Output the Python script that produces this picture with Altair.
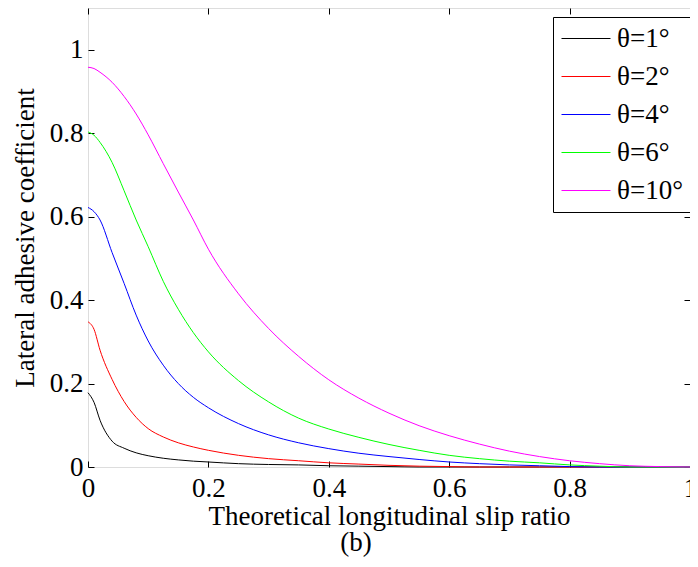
import altair as alt
import pandas as pd

# ---- data ----
x_vals = [0, 0.01, 0.02, 0.04, 0.06, 0.08, 0.10, 0.125, 0.15, 0.175, 0.2, 0.25, 0.3,
          0.35, 0.4, 0.45, 0.5, 0.55, 0.6, 0.65, 0.7, 0.75, 0.8, 0.85, 0.9, 0.95, 1.0]

theta1 = [0.178, 0.155, 0.112, 0.062, 0.045, 0.034, 0.027, 0.021, 0.017, 0.014, 0.012,
          0.008, 0.006, 0.005, 0.003, 0.002, 0.001, 0, 0, 0, 0, 0, 0, 0, 0, 0, 0]
theta2 = [0.348, 0.330, 0.280, 0.210, 0.157, 0.119, 0.092, 0.072, 0.058, 0.048, 0.040,
          0.028, 0.020, 0.015, 0.010, 0.007, 0.004, 0.002, 0.001, 0, 0, 0, 0, 0, 0, 0, 0]
theta4 = [0.622, 0.612, 0.592, 0.514, 0.440, 0.364, 0.302, 0.244, 0.200, 0.167, 0.142,
          0.104, 0.077, 0.058, 0.044, 0.033, 0.025, 0.018, 0.012, 0.008, 0.005, 0.003,
          0.001, 0, 0, 0, 0]
theta6 = [0.803, 0.795, 0.778, 0.730, 0.662, 0.592, 0.528, 0.445, 0.378, 0.322, 0.276,
          0.207, 0.156, 0.117, 0.091, 0.071, 0.054, 0.040, 0.028, 0.020, 0.014, 0.010,
          0.005, 0.002, 0, 0, 0]
theta10 = [0.958, 0.955, 0.946, 0.922, 0.888, 0.846, 0.796, 0.727, 0.659, 0.592, 0.522,
           0.415, 0.332, 0.265, 0.209, 0.165, 0.129, 0.099, 0.075, 0.055, 0.038, 0.025,
           0.015, 0.008, 0.003, 0.001, 0.0]

series_names = ["θ=1°", "θ=2°", "θ=4°", "θ=6°", "θ=10°"]
series_colors = ["#000000", "#ff0000", "#0000ff", "#00ff00", "#ff00ff"]
x_ticks = [0, 0.2, 0.4, 0.6, 0.8, 1.0]
y_ticks = [0, 0.2, 0.4, 0.6, 0.8, 1.0]

rows = []
for name, vals in zip(series_names, [theta1, theta2, theta4, theta6, theta10]):
    for xv, yv in zip(x_vals, vals):
        rows.append({"x": xv, "y": yv, "series": name})
df = pd.DataFrame(rows)

FONT = "Liberation Serif"
FS = 27
xscale = alt.Scale(domain=[0, 1], nice=False, zero=False)
yscale = alt.Scale(domain=[0, 1.1], nice=False)

lines = alt.Chart(df).mark_line(strokeWidth=1, interpolate="monotone").encode(
    x=alt.X("x:Q", scale=xscale, axis=alt.Axis(
        orient="bottom", values=x_ticks, format="~g", offset=-6, tickSize=6,
        domain=False, grid=False, labelFlush=False, labelOverlap=False, labelBound=False,
        labelFont=FONT, labelFontSize=FS, labelColor="black", labelPadding=8,
        tickColor="black", title="Theoretical longitudinal slip ratio",
        titleFont=FONT, titleFontSize=FS, titleFontWeight="normal",
        titleColor="black", titlePadding=2)),
    y=alt.Y("y:Q", scale=yscale, axis=alt.Axis(
        orient="left", values=y_ticks, format="~g", offset=-6, tickSize=6,
        domain=False, grid=False, labelFont=FONT, labelFontSize=FS,
        labelColor="black", labelPadding=5, tickColor="black",
        title="Lateral adhesive coefficient", titleFont=FONT, titleFontSize=FS,
        titleFontWeight="normal", titleColor="black", titlePadding=10)),
    color=alt.Color("series:N", sort=series_names,
                    scale=alt.Scale(domain=series_names, range=series_colors),
                    legend=alt.Legend(
                        title=None, orient="none", legendX=465, legendY=9,
                        symbolType="stroke", symbolSize=2400, symbolStrokeWidth=1,
                        clipHeight=27, labelFont=FONT, labelFontSize=FS,
                        labelColor="black", labelLimit=0, labelOffset=6,
                        rowPadding=10, padding=8, strokeColor="black",
                        fillColor="white", cornerRadius=0)),
    detail="series:N",
)

frame_ticks = alt.Chart(df).mark_line(strokeOpacity=0).encode(
    x=alt.X("x:Q", scale=xscale, axis=alt.Axis(
        orient="top", values=x_ticks, offset=-6, tickSize=6, domain=False,
        grid=False, labels=False, title=None, tickColor="black")),
    y=alt.Y("y:Q", scale=yscale, axis=alt.Axis(
        orient="right", values=y_ticks, offset=-6, tickSize=6, domain=False,
        grid=False, labels=False, title=None, tickColor="black")),
    detail="series:N",
)

chart = alt.layer(lines, frame_ticks).resolve_axis(
    x="independent", y="independent"
).properties(
    width=602, height=459,
    autosize=alt.AutoSizeParams(type="none"),
    padding={"left": 80, "top": 0, "right": 0, "bottom": 92},
    title=alt.TitleParams("(b)", orient="bottom", anchor="middle", font=FONT,
                          fontSize=FS, fontWeight="normal", color="black",
                          dx=-33, offset=1),
).configure_view(stroke="black", strokeWidth=1).configure(background="white")

chart.save("out.html", embed_options={"renderer": "svg", "actions": False})
